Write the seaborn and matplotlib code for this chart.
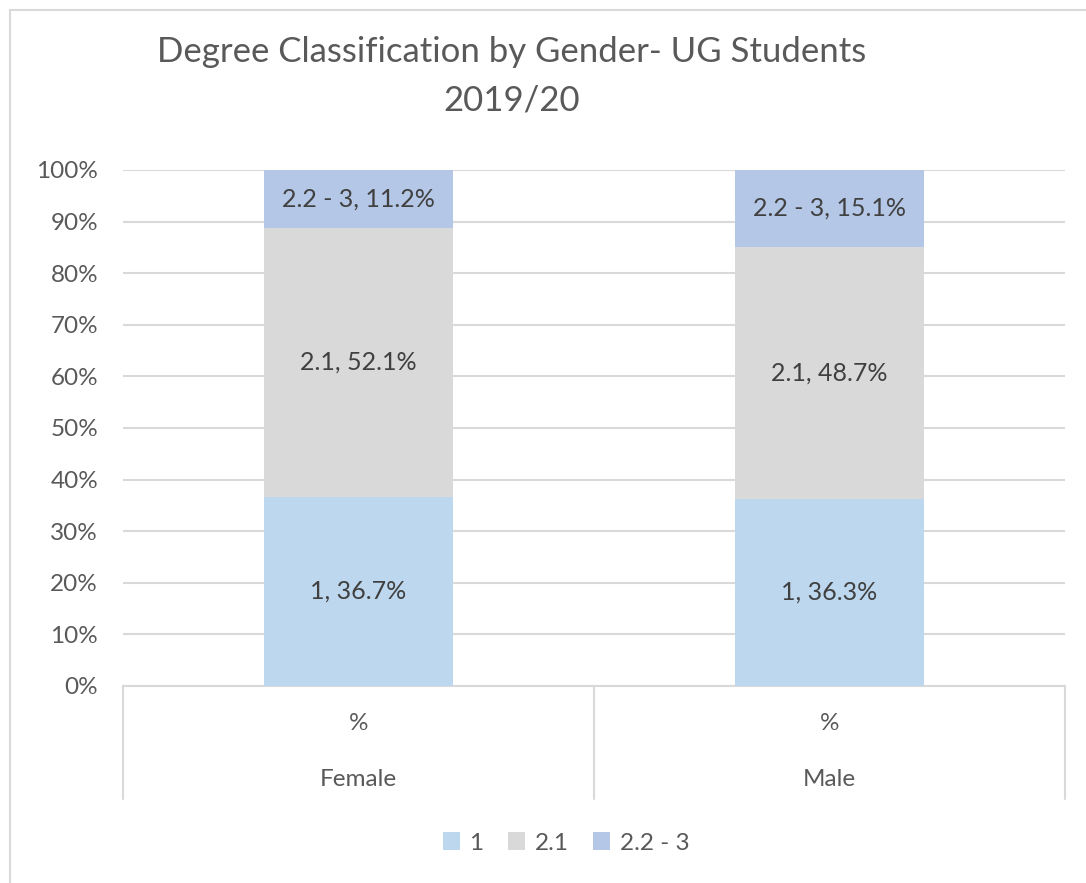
import matplotlib
matplotlib.use("Agg")
import matplotlib.pyplot as plt
import matplotlib.transforms as mtransforms
from matplotlib.patches import Patch
import pandas as pd
import seaborn as sns

# Data
genders = ["Female", "Male"]
sub_labels = ["%", "%"]
classes = ["1", "2.1", "2.2 - 3"]
share_1 = [36.7, 36.3]
share_21 = [52.1, 48.7]
share_223 = [11.2, 15.1]
colors = ["#BDD7EE", "#D9D9D9", "#B4C7E7"]
y_ticks = [0, 10, 20, 30, 40, 50, 60, 70, 80, 90, 100]

sns.set_theme(style="white")
plt.rcParams["font.family"] = ["Lato", "DejaVu Sans"]
text_col = "#595959"
grid_col = "#D9D9D9"
fs = 17.5

df = pd.DataFrame({"gender": genders, "c1": share_1, "c21": share_21, "c223": share_223})
df["cum2"] = df["c1"] + df["c21"]
df["cum3"] = df["cum2"] + df["c223"]

fig = plt.figure(figsize=(10.86, 8.83), dpi=100)
ax = fig.add_axes([123 / 1086, 1 - 686 / 883, (1065 - 123) / 1086, (686 - 170) / 883])

# stacked bars by overlaying cumulative totals
for col, c in zip(["cum3", "cum2", "c1"], [colors[2], colors[1], colors[0]]):
    sns.barplot(data=df, x="gender", y=col, color=c, width=0.4, ax=ax,
                saturation=1, zorder=3, linewidth=0)

ax.set_xlim(-0.5, 1.5)
ax.set_ylim(0, 100)
ax.set_yticks(y_ticks)
ax.set_yticklabels([f"{t}%" for t in y_ticks], fontsize=fs, color=text_col)
ax.tick_params(axis="y", length=0, pad=18)
ax.set_xticks([])
ax.set_xlabel("")
ax.set_ylabel("")
ax.grid(axis="y", color=grid_col, linewidth=1.5, zorder=0)
for s in ["top", "right", "left"]:
    ax.spines[s].set_visible(False)
ax.spines["bottom"].set_color(grid_col)
ax.spines["bottom"].set_linewidth(1.5)

# segment labels
for i in range(len(genders)):
    segs = [(share_1[i], 0), (share_21[i], share_1[i]), (share_223[i], share_1[i] + share_21[i])]
    for (val, base), name in zip(segs, classes):
        ax.text(i, base + val / 2, f"{name}, {val:.1f}%", ha="center", va="center",
                fontsize=18, color="#404040", zorder=5)

# multi-level category axis
trans = mtransforms.blended_transform_factory(ax.transData, ax.transAxes)
depth = (799 - 686) / 516
for xb in [-0.5, 0.5, 1.5]:
    ax.plot([xb, xb], [0, -depth], transform=trans, color=grid_col, linewidth=1.5, clip_on=False)
for i, g in enumerate(genders):
    ax.text(i, -(723 - 686) / 516, sub_labels[i], transform=trans, ha="center", va="center",
            fontsize=fs, color=text_col)
    ax.text(i, -(780 - 686) / 516, g, transform=trans, ha="center", va="center",
            fontsize=fs, color=text_col)

# title
fig.text(512 / 1086, 1 - 52 / 883, "Degree Classification by Gender- UG Students",
         ha="center", va="center", fontsize=25, color=text_col)
fig.text(512 / 1086, 1 - 101 / 883, "2019/20", ha="center", va="center", fontsize=25, color=text_col)

# legend
handles = [Patch(facecolor=c, edgecolor="none") for c in colors]
fig.legend(handles, classes, loc="center", bbox_to_anchor=(566 / 1086, 1 - 843 / 883),
           ncol=3, frameon=False, fontsize=fs, handlelength=0.7, handleheight=0.7,
           handletextpad=0.4, columnspacing=1.0, labelcolor=text_col)

# chart border
fig.add_artist(plt.Line2D([10 / 1086, 10 / 1086], [0, 1 - 10 / 883], color=grid_col, linewidth=1.5))
fig.add_artist(plt.Line2D([10 / 1086, 1], [1 - 10 / 883, 1 - 10 / 883], color=grid_col, linewidth=1.5))

fig.savefig("out.png", dpi=100, facecolor="white")
